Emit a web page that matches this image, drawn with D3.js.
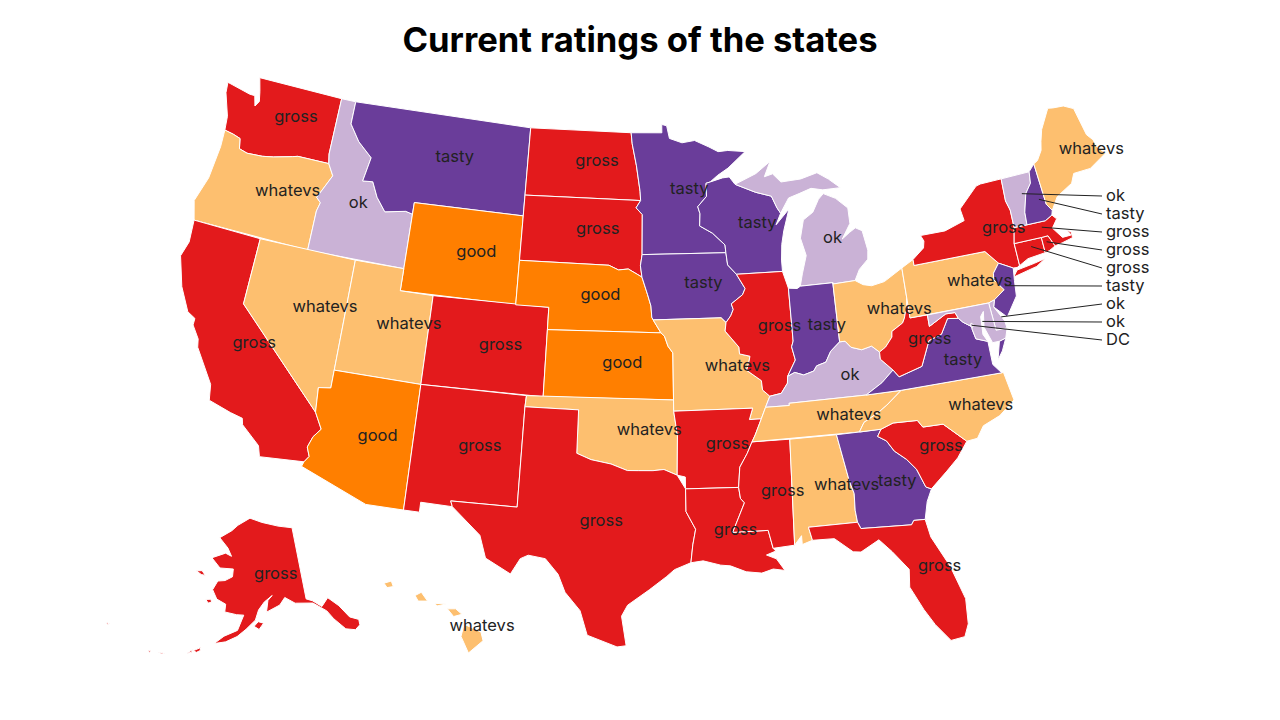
<!DOCTYPE html>
<head>
  <meta charset="utf-8">
  <script src="https://d3js.org/d3.v7.min.js"></script>
  <style>
    body { margin: 0; background: #fff; }
    text { font-family: Inter, "Open Sans", sans-serif; }
  </style>
</head>
<body>
<div id="my_dataviz"></div>
<script>
// ratings and colours
var ratingNames = ["gross", "whatevs", "ok", "good", "tasty", "DC"];
var ratingColors = ["#e31a1c", "#fdbf6f", "#cab2d6", "#ff7f00", "#6a3d9a", "#cab2d6"];

var stateNames = ["WA","OR","CA","ID","NV","MT","WY","UT","AZ","CO","NM","ND","SD","NE","KS","OK","TX","MN","IA","MO","AR","LA","WI","IL","MS","MI","IN","KY","TN","AL","OH","GA","FL","SC","NC","VA","WV","PA","NY","NJ","DE","MD","DC","CT","RI","MA","VT","NH","ME","AK","HI"];
var stateRatings = ["gross","whatevs","gross","ok","whatevs","tasty","good","whatevs","good","gross","gross","gross","gross","good","good","whatevs","gross","tasty","tasty","whatevs","gross","gross","tasty","gross","gross","ok","tasty","ok","whatevs","whatevs","whatevs","tasty","gross","gross","whatevs","tasty","gross","whatevs","gross","tasty","ok","ok","DC","gross","gross","gross","ok","tasty","whatevs","gross","whatevs"];

// small states labelled in the column on the right, top to bottom
var calloutStates = ["VT","NH","MA","RI","CT","NJ","DE","MD","DC"];

// shared borders, lon/lat
var mnWi = [[-92.02,46.71],[-92.29,46.66],[-92.29,46.07],[-92.88,45.62],[-92.75,45.3],[-92.8,44.75],[-92,44.4],[-91.25,43.85],[-91.22,43.5]];
var wiIa = [[-91.22,43.5],[-91.15,42.95],[-90.64,42.51]];
var iaIl = [[-90.64,42.51],[-90.16,41.85],[-90.34,41.58],[-91.05,41.2],[-90.95,40.95],[-91.12,40.67],[-91.42,40.38]];
var moIl = [[-91.42,40.38],[-91.5,40],[-90.73,39.25],[-90.72,38.95],[-90.12,38.82],[-90.19,38.6],[-90.36,38.2],[-89.55,37.7],[-89.52,37.28],[-89.13,36.98]];
var moKy = [[-89.13,36.98],[-89.42,36.5]];
var moTn = [[-89.42,36.5],[-89.7,36]];
var arTn = [[-89.7,36],[-90.1,35.3],[-90.3,35]];
var arMs = [[-90.3,35],[-90.6,34.5],[-91.05,33.9],[-91.17,33]];
var laMs = [[-91.17,33],[-91.1,32.5],[-90.9,32.3],[-91.6,31],[-89.73,31],[-89.53,30.18]];
var ilKy = [[-89.13,36.98],[-88.47,37.07],[-88.07,37.5],[-88.03,37.8]];
var inKy = [[-88.03,37.8],[-87.6,37.95],[-87.1,37.8],[-86.5,37.93],[-86.3,38.15],[-85.75,38.27],[-85.4,38.73],[-84.82,39.1]];
var ohKy = [[-84.82,39.1],[-84.5,39.1],[-84.2,38.8],[-83.6,38.63],[-83,38.73],[-82.59,38.42]];
var ohWv = [[-82.59,38.42],[-82.2,38.6],[-81.75,39],[-81.7,39.25],[-81,39.55],[-80.85,39.75],[-80.6,40.3],[-80.52,40.64]];
var kyWv = [[-82.59,38.42],[-82.6,38.1],[-81.97,37.54]];
var kyVa = [[-81.97,37.54],[-82.7,37.05],[-83.68,36.6]];
var tnVa = [[-83.68,36.6],[-81.68,36.59]];
var tnNc = [[-81.68,36.59],[-82.6,36.03],[-83.1,35.77],[-84,35.4],[-84.32,35]];
var vaWv = [[-77.72,39.32],[-78.35,39.4],[-78.87,38.76],[-79.65,38.58],[-80.3,37.5],[-81.68,37.2],[-81.97,37.54]];
var mdVa = [[-76.3,38.05],[-76.95,38.27],[-77.05,38.7],[-77.05,38.84],[-77.5,39.11],[-77.72,39.32]];
var mnSd = [[-96.45,43.5],[-96.45,45.3],[-96.85,45.6],[-96.56,45.93]];
var mnNd = [[-96.56,45.93],[-96.6,46.35],[-96.85,47.5],[-97.15,48.5],[-97.23,49]];
var sdNe = [[-104.05,43],[-98.5,43],[-97.9,42.8],[-97.3,42.85],[-96.7,42.6],[-96.45,42.49]];
var sdIa = [[-96.45,43.5],[-96.55,43],[-96.45,42.49]];
var neIa = [[-96.45,42.49],[-96.1,41.7],[-95.9,41.2],[-95.85,40.7],[-95.77,40.58]];
var neMo = [[-95.77,40.58],[-95.31,40]];
var ksMo = [[-95.31,40],[-95.1,39.85],[-94.9,39.4],[-94.62,39.1],[-94.62,37]];
var redRiver = [[-100,34.56],[-99.2,34.3],[-98.1,34.13],[-97.2,33.85],[-96.6,33.85],[-95.8,33.85],[-95.2,33.9],[-94.48,33.64]];
var sabine = [[-94.04,33.02],[-94.04,32],[-93.55,31.2],[-93.72,30.5],[-93.84,29.7]];
var colorado = [[-114.05,36.19],[-114.74,36.1],[-114.63,35],[-114.14,34.3],[-114.5,33.9],[-114.7,33.4],[-114.5,33],[-114.72,32.72]];
var idMt = [[-116.05,49],[-116.05,47.97],[-115.3,47.25],[-114.3,46.65],[-114.55,45.55],[-113.9,45.6],[-113.45,44.95],[-112.8,44.37],[-111.5,44.55],[-111.05,44.47]];
var idOr = [[-116.92,46],[-116.5,45.5],[-117.2,44.4],[-116.9,44.2],[-117.03,43.8],[-117.03,42]];
var waOr = [[-124,46.27],[-123.4,46.2],[-122.9,46.1],[-122.75,45.65],[-122.2,45.55],[-121.2,45.6],[-120.5,45.7],[-119.3,45.93],[-118.98,46],[-116.92,46]];
var gaSc = [[-83.11,35],[-83.35,34.7],[-82.9,34.45],[-82.55,33.95],[-81.95,33.5],[-81.5,33],[-81.15,32.15],[-80.87,32.03]];
var ncSc = [[-83.11,35],[-82.4,35.2],[-81.04,35.15],[-80.8,34.82],[-79.67,34.8],[-78.55,33.86]];
var alGa = [[-85.6,35],[-85.18,32.87],[-85,32.3],[-85.05,31.55],[-85,31]];
var gaFl = [[-85,31],[-84.86,30.7],[-82.2,30.57],[-82.05,30.75],[-81.45,30.72]];
var miOh = [[-84.81,41.76],[-84.81,41.7],[-83.45,41.73]];
var wiUp = [[-90.4,46.55],[-89.1,46.13],[-88.1,45.9],[-87.8,45.35],[-87.6,45.1]];
var paNj = [[-74.7,41.36],[-75.13,40.97],[-75.2,40.68],[-74.72,40.15],[-75.42,39.8]];
var vtNh = [[-71.5,45.01],[-71.6,44.5],[-72.05,44.1],[-72.4,43.3],[-72.46,42.73]];
var nyVt = [[-73.34,45.01],[-73.4,44],[-73.25,43.55],[-73.27,42.75]];
var neBorder = [[-73.27,42.75],[-73.5,42.05],[-73.49,41.05],[-73.65,40.98]];

function rev(a) { return a.slice().reverse(); }
function ring() { return [].concat.apply([], arguments); }

var stateRings = {
  WA: [ring([[-124.73,48.38],[-123.1,48.15],[-122.75,48.15],[-122.55,47.7],[-122.35,47.95],[-122.5,48.4],[-122.76,49],[-117.03,49],[-117.04,46.43]], rev(waOr), [[-124.1,46.9],[-124.65,47.9]])],
  OR: [ring(waOr, idOr, [[-124.2,42],[-124.55,42.84],[-124.1,44],[-123.95,45.5]])],
  CA: [ring([[-124.2,42],[-120,42],[-120,39]], colorado.slice(2), [[-117.12,32.53],[-117.3,33],[-118.4,33.75],[-118.5,34.03],[-119.2,34.15],[-120.5,34.45],[-120.65,35.15],[-121.9,36.6],[-122,36.96],[-122.5,37.5],[-122.5,37.8],[-123,38],[-123.75,39],[-124.35,40.3],[-124.1,41]])],
  ID: [ring([[-117.03,49]], idMt, [[-111.05,42],[-117.03,42]], rev(idOr), [[-117.04,46.43]])],
  NV: [ring([[-120,42],[-114.05,42]], colorado.slice(0,3), [[-120,39]])],
  MT: [ring([[-116.05,49],[-104.05,49],[-104.05,45],[-111.05,45]], rev(idMt))],
  WY: [[[-111.05,45],[-104.05,45],[-104.05,41],[-111.05,41]]],
  UT: [[[-114.05,42],[-111.05,42],[-111.05,41],[-109.05,41],[-109.05,37],[-114.05,37]]],
  AZ: [ring([[-114.05,37],[-109.05,37],[-109.05,31.33],[-111.07,31.33],[-114.8,32.5]], rev(colorado))],
  CO: [[[-109.05,41],[-102.05,41],[-102.05,37],[-109.05,37]]],
  NM: [[[-109.05,37],[-103,37],[-103.04,36.5],[-103.06,32],[-106.62,32],[-106.5,31.75],[-108.2,31.78],[-108.2,31.33],[-109.05,31.33]]],
  ND: [ring([[-104.05,49],[-97.23,49]], rev(mnNd), [[-104.05,45.94]])],
  SD: [ring([[-104.05,45.94]], rev(mnSd), sdIa, rev(sdNe))],
  NE: [ring(sdNe, neIa, neMo, [[-102.05,40],[-102.05,41],[-104.05,41]])],
  KS: [ring([[-102.05,40]], ksMo, [[-102.05,37]])],
  OK: [ring([[-103,37],[-94.62,37],[-94.62,36.5],[-94.43,35.4]], rev(redRiver), [[-100,36.5],[-103.04,36.5]])],
  TX: [ring([[-103.04,36.5],[-100,36.5]], redRiver, sabine, [[-94.7,29.4],[-95.1,29.1],[-96,28.5],[-97.1,27.8],[-97.4,27.3],[-97.15,25.96],[-97.6,25.9],[-99.1,26.4],[-99.5,27.5],[-100.3,28.3],[-100.7,29.1],[-101.4,29.77],[-102.3,29.88],[-102.7,29.7],[-103.15,28.98],[-104.5,29.6],[-104.9,30.6],[-106.5,31.75],[-106.62,32],[-103.06,32]])],
  MN: [ring([[-97.23,49],[-95.15,49],[-95.15,49.38],[-94.82,49.32],[-94.64,48.74],[-93.8,48.53],[-92.95,48.62],[-92,48.3],[-91.4,48.07],[-90.75,48.1],[-89.6,48],[-90.8,47.3],[-91.5,47]], mnWi, mnSd, mnNd)],
  IA: [ring([[-96.45,43.5]], wiIa, iaIl, [[-91.7,40.6]], rev(neIa), rev(sdIa))],
  MO: [ring([[-95.77,40.58],[-91.7,40.6]], moIl, moKy, moTn, [[-90.37,36],[-90.15,36.5],[-94.62,36.5]], rev(ksMo), rev(neMo))],
  AR: [ring([[-94.62,36.5],[-90.15,36.5],[-90.37,36]], arTn, arMs, [[-94.04,33.02],[-94.04,33.55],[-94.48,33.64],[-94.43,35.4]])],
  LA: [ring([[-94.04,33.02]], laMs, [[-89.4,30.05],[-89.9,29.9],[-89.4,29.7],[-89,29.15],[-89.6,29.25],[-90.2,29.1],[-91,29.2],[-91.8,29.5],[-92.3,29.55],[-93.2,29.77]], rev(sabine))],
  WI: [ring(mnWi, wiIa, [[-87.8,42.49],[-87.8,43],[-87.7,43.7],[-87.5,44.3],[-87.05,45.25],[-87.95,44.6]], rev(wiUp), [[-90.75,46.9],[-91.2,46.87]])],
  IL: [ring(iaIl.slice(0,1), [[-87.8,42.49],[-87.53,41.72],[-87.53,39.35],[-87.65,39.1],[-87.5,38.5]], rev(ilKy), rev(moIl), rev(iaIl))],
  MS: [ring([[-90.3,35],[-88.2,35],[-88.4,30.25]], rev(laMs), rev(arMs))],
  MI: [ring([[-86.8,41.76]], miOh, [[-83.1,42.2],[-82.5,42.6],[-82.42,43],[-82.6,43.9],[-83,44.07],[-83.4,43.9],[-83.9,43.65],[-83.3,44.3],[-83.3,45],[-84,45.5],[-84.75,45.78],[-85.1,45.55],[-85.55,45],[-86.2,44.7],[-86.5,43.9],[-86.25,43.1],[-86.6,42.3]]),
       ring(wiUp, [[-87,45.75],[-86.3,45.9],[-85.5,46.08],[-84.75,45.95],[-83.6,45.95],[-84.3,46.4],[-85,46.75],[-86.1,46.55],[-87.4,46.5],[-87.9,46.9],[-88.45,46.8],[-88,47.47],[-89,46.97]])],
  IN: [ring([[-87.53,41.72],[-87,41.67],[-86.8,41.76],[-84.81,41.76]], rev(inKy), [[-87.5,38.5],[-87.65,39.1],[-87.53,39.35]])],
  KY: [ring(rev(moKy), ilKy, inKy, ohKy, kyWv, kyVa, [[-88.07,36.6],[-88.07,36.5]])],
  TN: [ring(rev(arTn), rev(moTn), [[-88.07,36.5],[-88.07,36.6]], tnVa, tnNc)],
  AL: [ring([[-88.2,35]], alGa, [[-87.6,31],[-87.45,30.4],[-88,30.25],[-88,30.65],[-88.4,30.25]])],
  OH: [ring(miOh, [[-83,41.5],[-82.5,41.4],[-81.7,41.5],[-80.52,41.98]], rev(ohWv), rev(ohKy))],
  GA: [ring(alGa.slice(0,1), [[-84.32,35]], gaSc, [[-81.2,31.5]], rev(gaFl), rev(alGa))],
  FL: [ring([[-87.6,31]], gaFl, [[-81.3,29.9],[-80.55,28.45],[-80.05,26.9],[-80.13,25.75],[-80.4,25.2],[-81.1,25.13],[-81.75,25.95],[-82.2,26.7],[-82.75,27.8],[-82.65,28.6],[-83.4,29.5],[-84,30.1],[-85,29.65],[-85.4,29.7],[-86.3,30.38],[-87.45,30.4]])],
  SC: [ring(ncSc, [[-79.2,33.2],[-79.9,32.7]], rev(gaSc))],
  NC: [ring([[-84.32,35]], ncSc, [[-77.95,33.9],[-77.5,34.4],[-76.5,34.7],[-75.55,35.25],[-75.8,36.55]], tnNc)],
  VA: [ring(tnVa, [[-75.9,36.55],[-76.3,37],[-76.3,38.05]], mdVa, vaWv, kyVa),
       [[-75.95,37.15],[-75.65,37.95],[-75.25,38.03],[-75.6,37.5]]],
  WV: [ring(ohWv, [[-80.52,39.72],[-79.48,39.72],[-79.48,39.2],[-78.4,39.62],[-77.85,39.6]], vaWv, rev(kyWv))],
  PA: [ring([[-80.52,41.98],[-79.76,42.27],[-79.76,42],[-75.35,42]], paNj, [[-75.79,39.72],[-80.52,39.72]])],
  NY: [ring([[-79.76,42.27],[-79,42.7],[-78.9,43],[-79.05,43.27],[-77.5,43.27],[-76.2,43.55],[-76.3,44.1],[-75,44.95],[-74.7,45]], nyVt, neBorder, [[-73.9,41],[-74.7,41.36],[-75.35,42],[-79.76,42]]),
       [[-74,40.6],[-73.7,40.87],[-72.6,40.98],[-71.9,41.07],[-72.5,40.82]]],
  NJ: [ring(paNj.slice(0,1), [[-73.9,41],[-74,40.45],[-74.1,39.75],[-74.9,38.93],[-75.55,39.5]], rev(paNj))],
  DE: [[[-75.79,39.72],[-75.42,39.8],[-75.55,39.5],[-75.1,38.8],[-75.05,38.45],[-75.7,38.46]]],
  MD: [ring([[-79.48,39.72],[-75.79,39.72],[-75.7,38.46],[-75.05,38.45],[-75.25,38.03],[-75.65,37.95],[-76.05,37.95],[-76.35,38.7],[-76.2,39.4],[-76.42,39.2],[-76.5,38.4]], mdVa, [[-77.85,39.6],[-78.4,39.62],[-79.48,39.2]])],
  DC: [[[-77.12,38.93],[-77.04,39],[-76.91,38.89],[-77.04,38.79]]],
  CT: [ring([[-73.5,42.05],[-71.8,42.02],[-71.8,41.32],[-72.9,41.25],[-73.65,40.98],[-73.49,41.05]])],
  RI: [[[-71.8,42.02],[-71.38,42.02],[-71.12,41.5],[-71.5,41.37],[-71.8,41.32]]],
  MA: [[[-73.5,42.05],[-73.27,42.75],[-72.46,42.73],[-71.3,42.7],[-70.82,42.87],[-70.6,42.65],[-71,42.3],[-70.55,41.78],[-70,41.78],[-70.2,42.07],[-69.95,41.9],[-69.97,41.65],[-70.65,41.55],[-71.12,41.5],[-71.38,42.02],[-71.8,42.02]]],
  VT: [ring(nyVt, [[-72.46,42.73]], rev(vtNh))],
  NH: [ring(vtNh, [[-71.3,42.7],[-70.82,42.87],[-70.72,43.07],[-70.98,43.4],[-71.08,45.3]])],
  ME: [[[-71.08,45.3],[-70.8,45.4],[-70.4,45.8],[-70.25,46.2],[-70,46.7],[-69.23,47.55],[-68.9,47.5],[-68.2,47.45],[-67.6,47.2],[-67.3,45.9],[-67,45.6],[-66.9,45.25],[-66.5,44.85],[-67.7,44.4],[-68.8,44.4],[-69.1,44],[-70.2,43.6],[-70.72,43.07],[-70.98,43.4]]],
  AK: [[[-141,69.65],[-141,60.3],[-139.5,59.9],[-137.5,58.9],[-135.5,59.8],[-133.4,58.4],[-131.8,56.6],[-130,55.9],[-130.2,55.2],[-131.5,54.8],[-133.5,55.3],[-135.5,57],[-136.6,58.2],[-139.5,59.6],[-144,60],[-146.5,60.9],[-148,60],[-151.5,59.2],[-151,60.7],[-149.8,61.3],[-152,60.5],[-153.5,59.5],[-154.3,58.2],[-156.5,57],[-158.5,56],[-161,55.2],[-163.5,54.8],[-161.5,55.9],[-158.5,56.8],[-157.2,58.8],[-159,58.8],[-162,59],[-162,60],[-164.5,60.5],[-166,61.6],[-165,62.8],[-163,63],[-161,63.6],[-161,64.6],[-165,64.5],[-168,65.6],[-164,66.5],[-162,66.2],[-163.5,67.2],[-166.8,68.35],[-163,69.5],[-161,70.3],[-156.6,71.35],[-152,70.8],[-146,70.15]],
       [[-154.6,57.4],[-153.6,58],[-152.3,57.8],[-153.4,57]],
       [[-171.6,63.5],[-170,63.7],[-168.8,63.2],[-170,63.2]],
       [[-167.3,60.2],[-166,60.35],[-165.7,60],[-166.5,59.8]],
       [[-167.8,53.4],[-166.3,54],[-166.3,53.6],[-167,53.3]],
       [[-169,52.9],[-168,53.5],[-168,53.2]],
       [[-174.9,52.1],[-173.5,52.2],[-174,52]],
       [[-177,51.9],[-176.4,51.95],[-176.6,51.65]],
       [[172.5,52.95],[173.4,52.95],[173,52.8]]],
  HI: [[[-155.9,20.25],[-155.1,19.9],[-155,19.5],[-155.7,18.95],[-156.05,19.7]],
       [[-156.7,20.95],[-156.3,20.95],[-156,20.7],[-156.4,20.6]],
       [[-157.3,21.2],[-156.75,21.17],[-157.2,21.08]],
       [[-158.25,21.55],[-157.95,21.7],[-157.65,21.3],[-158.1,21.3]],
       [[-159.75,22.1],[-159.4,22.2],[-159.3,21.95],[-159.6,21.9]]]
};

// labels sit on the centroid of each state, then get pushed to where the original has them
var labelNudge = {WA:[13,-4],OR:[25,-3],ID:[2,-3],MT:[12,-3],ND:[15,-4],SD:[15,-3],CA:[12,-2],WY:[13,-2],NE:[14,-2],KS:[14,-2],IA:[13,-3],WI:[13,-3],IL:[15,-3],IN:[14,-1],OH:[29,-2],MI:[14,9],PA:[29,-3],NY:[26,-3],ME:[28,-3],NV:[24,-2],UT:[25,-2],CO:[14,-1],AZ:[12,-1],NM:[14,-2],TX:[14,-2],OK:[27,0],MO:[27,-2],AR:[14,-2],LA:[9,-2],MS:[15,-1],AL:[27,-1],GA:[15,-1],FL:[27,-2],SC:[16,-2],NC:[32,-1],TN:[28,-2],KY:[14,-2],WV:[18,-3],VA:[16,0],AK:[12,-1],HI:[25,0],MN:[13,-3]};
var calloutNudge = {VT:[5,-3],NH:[3,-2],MA:[2,-5],RI:[-1,-2],CT:[2,-3],NJ:[0,-3],DE:[4,-1],MD:[7,0],DC:[0,0]};

var width = 1280, height = 720;

var svg = d3.select("#my_dataviz").append("svg")
  .attr("width", width).attr("height", height);

var projection = d3.geoAlbersUsa().scale(1272).translate([639, 362]);
var path = d3.geoPath(projection);
var color = d3.scaleOrdinal().domain(ratingNames).range(ratingColors);

// rings have to wind the way d3 expects, otherwise it fills the whole globe
function fixPoly(r) {
  var closed = r.concat([r[0]]);
  var poly = {type: "Polygon", coordinates: [closed]};
  if (d3.geoArea(poly) > 2 * Math.PI) closed.reverse();
  return [closed];
}

var states = stateNames.map(function(name, i) {
  return {
    type: "Feature",
    id: name,
    rating: stateRatings[i],
    geometry: {type: "MultiPolygon", coordinates: stateRings[name].map(fixPoly)}
  };
});

svg.append("g").selectAll("path")
  .data(states).enter().append("path")
    .attr("d", path)
    .style("fill", function(d) { return color(d.rating); })
    .style("stroke", "#fff")
    .style("stroke-width", 1)
    .style("stroke-linejoin", "round");

// title
svg.append("text")
  .attr("x", 640).attr("y", 52)
  .attr("text-anchor", "middle")
  .style("font-size", "34.6px").style("font-weight", 700)
  .style("fill", "#000")
  .text("Current ratings of the states");

// column of callouts for the small states
var calloutY = d3.scalePoint().domain(calloutStates).range([196, 340]);
var byId = new Map(states.map(function(d) { return [d.id, d]; }));

var callouts = svg.append("g").selectAll("g")
  .data(calloutStates).enter().append("g");

callouts.append("line")
  .attr("x1", function(d) { var c = path.centroid(byId.get(d)), n = calloutNudge[d] || [0, 0]; return c[0] + n[0]; })
  .attr("y1", function(d) { var c = path.centroid(byId.get(d)), n = calloutNudge[d] || [0, 0]; return c[1] + n[1]; })
  .attr("x2", 1102)
  .attr("y2", function(d) { return calloutY(d); })
  .style("stroke", "#222").style("stroke-width", 1);

callouts.append("text")
  .attr("x", 1106)
  .attr("y", function(d) { return calloutY(d); })
  .attr("dy", "0.3em")
  .style("font-size", "16.5px").style("fill", "#222")
  .text(function(d) { return byId.get(d).rating; });

// labels inside the states
svg.append("g").selectAll("text")
  .data(states.filter(function(d) { return calloutStates.indexOf(d.id) < 0; }))
  .enter().append("text")
    .attr("transform", function(d) {
      var c = path.centroid(d), n = labelNudge[d.id] || [0, 0];
      return "translate(" + (c[0] + n[0]) + "," + (c[1] + n[1]) + ")";
    })
    .attr("text-anchor", "middle")
    .attr("dy", "0.3em")
    .style("font-size", "16.5px").style("fill", "#222")
    .text(function(d) { return d.rating; });
</script>
</body>
